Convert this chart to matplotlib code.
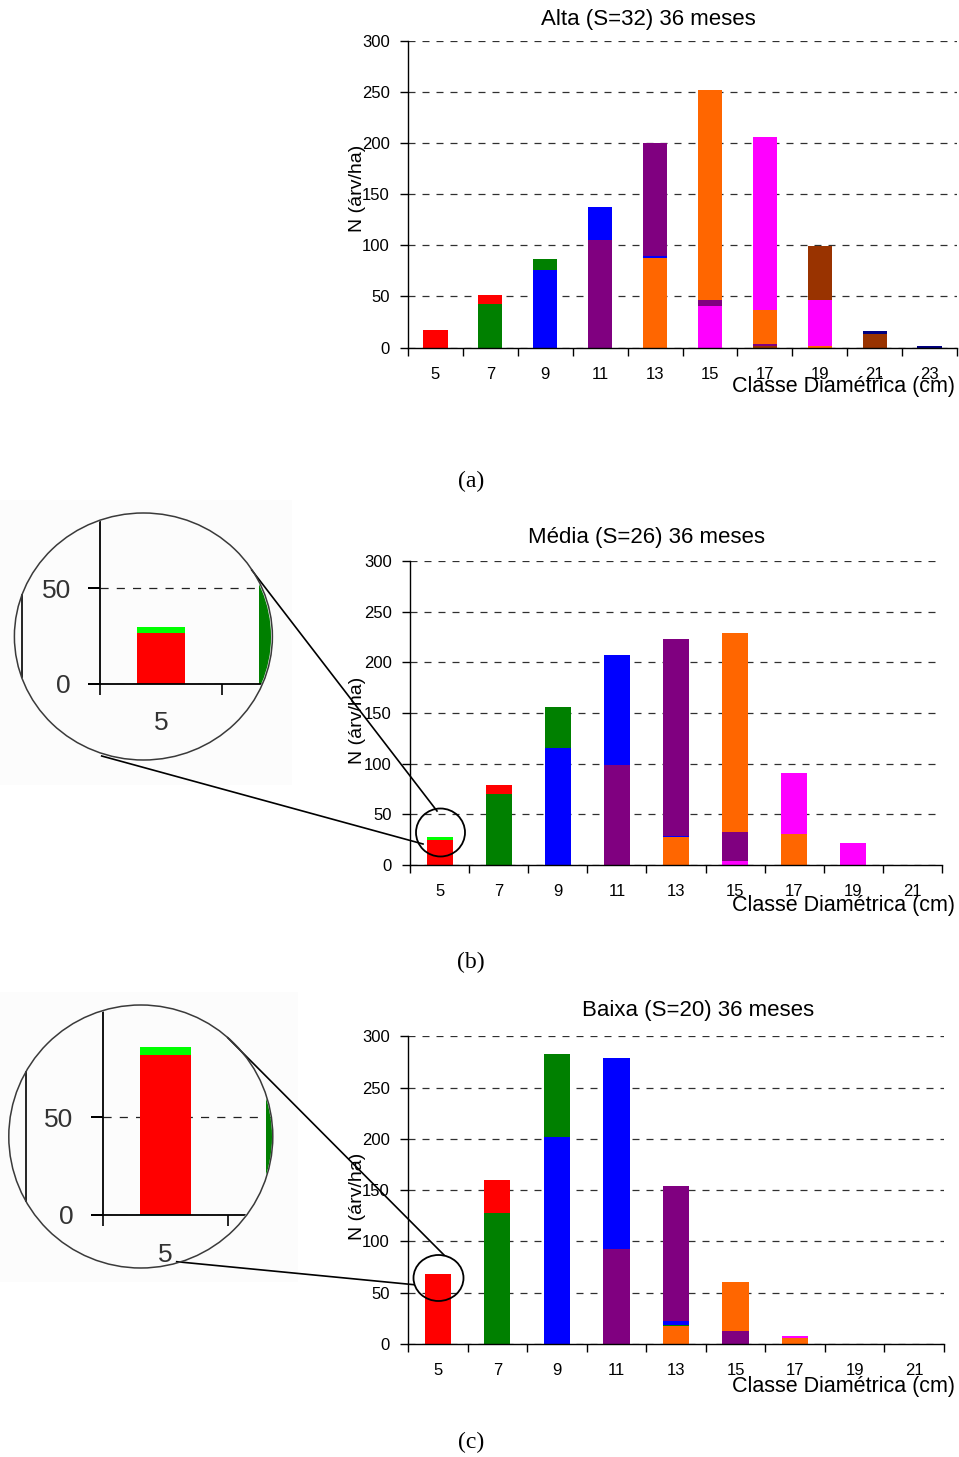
import matplotlib
matplotlib.use('Agg')
import matplotlib.pyplot as plt
from matplotlib.patches import Ellipse, Rectangle
import numpy as np

plt.rcParams['font.family'] = ['Liberation Sans', 'DejaVu Sans']

W, H, DPI = 959, 1457, 100

PALETTE = {'red': '#FF0000', 'lime': '#00FF00', 'green': '#008000', 'blue': '#0000FF',
           'purple': '#800080', 'orange': '#FF6600', 'magenta': '#FF00FF',
           'brown': '#993300', 'navy': '#000080'}

# ---------------- data ----------------
a_title = 'Alta (S=32) 36 meses'
a_classes = ['5', '7', '9', '11', '13', '15', '17', '19', '21', '23']
a_colors = [['red'], ['green', 'red'], ['blue', 'green'], ['purple', 'blue'],
            ['orange', 'blue', 'purple'], ['magenta', 'purple', 'orange'],
            ['brown', 'purple', 'orange', 'magenta'], ['orange', 'magenta', 'brown'],
            ['brown', 'navy'], ['navy']]
a_values = [[17], [43, 8], [76, 10.5], [105, 32.5],
            [87.5, 2, 111], [40.5, 6, 206],
            [1, 2, 33.5, 169.5], [1.5, 45, 53],
            [13, 3], [1.3]]

b_title = 'Média (S=26) 36 meses'
b_classes = ['5', '7', '9', '11', '13', '15', '17', '19', '21']
b_colors = [['red', 'lime'], ['green', 'red'], ['blue', 'green'], ['purple', 'blue'],
            ['orange', 'blue', 'purple'], ['magenta', 'purple', 'orange'],
            ['orange', 'magenta'], ['magenta'], []]
b_values = [[24.5, 3], [70, 8.8], [115.7, 40.3], [98.6, 108.8],
            [27.4, 1.3, 194.5], [3.6, 28.7, 196.8],
            [30.3, 60.4], [21.4], []]

c_title = 'Baixa (S=20) 36 meses'
c_classes = ['5', '7', '9', '11', '13', '15', '17', '19', '21']
c_colors = [['red'], ['green', 'red'], ['blue', 'green'], ['purple', 'blue'],
            ['orange', 'green', 'blue', 'purple'], ['purple', 'orange'],
            ['orange', 'magenta'], [], []]
c_values = [[68], [128, 32], [202, 81], [92.6, 186.2],
            [17.5, 1.3, 3.6, 131.6], [12.7, 47.7],
            [5.8, 2], [], []]

# magnified insets (as drawn in the picture)
b_zoom_classes = ['5', '7']
b_zoom_colors = [['red', 'lime'], ['green', 'red']]
b_zoom_values = [[26.3, 3.1], [70, 8.8]]

c_zoom_classes = ['5', '7']
c_zoom_colors = [['red', 'lime'], ['green', 'red']]
c_zoom_values = [[82, 4], [128, 32]]

y_ticks = [0, 50, 100, 150, 200, 250, 300]
zoom_ticks = [0, 50]

ylabel_text = 'N (árv/ha)'
xlabel_text = 'Classe Diamétrica (cm)'


def px_rect(l, t, r, b):
    return [l / W, 1 - b / H, (r - l) / W, (b - t) / H]


def stacked(ax, colors, values, width):
    x = np.arange(len(colors))
    for i, (cs, vs) in enumerate(zip(colors, values)):
        bottom = 0.0
        for c, v in zip(cs, vs):
            ax.bar(x[i], v, width=width, bottom=bottom, color=PALETTE[c],
                   linewidth=0, zorder=3)
            bottom += v


fig = plt.figure(figsize=(W / DPI, H / DPI), dpi=DPI)
fig.patch.set_facecolor('white')

# background overlay (very light gray behind magnified insets)
ov_bg = fig.add_axes([0, 0, 1, 1], zorder=0)
ov_bg.set_xlim(0, W)
ov_bg.set_ylim(H, 0)
ov_bg.axis('off')
ov_bg.add_patch(Rectangle((0, 500), 292, 285, facecolor='#fcfcfc', edgecolor='none'))
ov_bg.add_patch(Rectangle((0, 992), 298, 290, facecolor='#fcfcfc', edgecolor='none'))


def panel(rect, classes, colors, values, title, title_xy, ylab_y, xlab_y, tag, tag_y):
    ax = fig.add_axes(px_rect(*rect), zorder=1)
    ax.patch.set_alpha(0)
    n = len(classes)
    stacked(ax, colors, values, 0.44)
    ax.set_xlim(-0.5, n - 0.5)
    ax.set_ylim(0, 300)
    ax.set_yticks(y_ticks)
    ax.set_yticklabels([str(t) for t in y_ticks], fontsize=12)
    ax.set_xticks(np.arange(n))
    ax.set_xticklabels(classes, fontsize=12)
    ax.set_xticks(np.arange(-0.5, n), minor=True)
    ax.tick_params(axis='x', which='major', length=0, pad=14)
    ax.tick_params(axis='x', which='minor', length=6, width=1, direction='out')
    ax.tick_params(axis='y', length=6, width=1, pad=7, direction='out')
    for s in ('top', 'right'):
        ax.spines[s].set_visible(False)
    for s in ('left', 'bottom'):
        ax.spines[s].set_linewidth(1.0)
        ax.spines[s].set_zorder(5)
    ax.set_axisbelow(True)
    ax.yaxis.grid(True, linestyle=(0, (5.6, 5.6)), color='#303030', linewidth=0.9)
    fig.text(title_xy[0] / W, 1 - title_xy[1] / H, title, fontsize=16,
             ha='center', va='baseline')
    fig.text(357 / W, 1 - ylab_y / H, ylabel_text, fontsize=14, rotation=90,
             ha='center', va='center')
    fig.text(955 / W, 1 - xlab_y / H, xlabel_text, fontsize=15.5,
             ha='right', va='baseline')
    fig.text(471 / W, 1 - tag_y / H, tag, fontsize=17, family='Liberation Serif',
             ha='center', va='center')
    return ax


panel((408, 41.3, 957, 347.5), a_classes, a_colors, a_values, a_title,
      (648, 25.5), 188, 392, '(a)', 481)
panel((410, 561.3, 942, 864.7), b_classes, b_colors, b_values, b_title,
      (647, 543), 720, 911, '(b)', 962)
panel((408, 1036.3, 944, 1344), c_classes, c_colors, c_values, c_title,
      (698, 1016), 1196, 1392, '(c)', 1442)

# foreground overlay (circles, connector lines)
ov = fig.add_axes([0, 0, 1, 1], zorder=10)
ov.set_xlim(0, W)
ov.set_ylim(H, 0)
ov.axis('off')
ov.patch.set_alpha(0)


def zoom_inset(center, rx, ry, ax_left, zero_y, px_per_unit, cat_px, x0_px,
               classes, colors, values, small, lines, leftline):
    ell = Ellipse(center, 2 * rx, 2 * ry, facecolor='none', edgecolor='#3a3a3a',
                  linewidth=1.1, zorder=6)
    ov.add_patch(ell)
    top_y = center[1] - ry - 5
    right_x = center[0] + rx + 5
    ax = fig.add_axes(px_rect(ax_left, top_y, right_x, zero_y), zorder=5)
    ax.patch.set_alpha(0)
    stacked(ax, colors, values, 0.4)
    xmin = -0.5 + (ax_left - x0_px) / cat_px
    ax.set_xlim(xmin, xmin + (right_x - ax_left) / cat_px)
    ax.set_ylim(0, (zero_y - top_y) / px_per_unit)
    ax.set_yticks(zoom_ticks)
    ax.set_yticklabels([str(t) for t in zoom_ticks], fontsize=19, color='#333333')
    ax.set_xticks([0])
    ax.set_xticklabels([classes[0]], fontsize=19, color='#333333')
    ax.set_xticks([-0.5, 0.5], minor=True)
    ax.tick_params(axis='x', which='major', length=0, pad=20)
    ax.tick_params(axis='x', which='minor', length=8, width=1.2)
    ax.tick_params(axis='y', length=9, width=1.2, pad=12)
    for s in ('top', 'right'):
        ax.spines[s].set_visible(False)
    for s in ('left', 'bottom'):
        ax.spines[s].set_linewidth(1.3)
        ax.spines[s].set_zorder(5)
    ax.set_axisbelow(True)
    ax.yaxis.grid(True, linestyle=(0, (6.5, 6.5)), color='#222222', linewidth=0.9)
    clip = Ellipse(center, 2 * rx - 2, 2 * ry - 2, transform=ov.transData)
    for art in ax.patches + ax.get_ygridlines() + list(ax.spines.values()):
        art.set_clip_path(clip)
    for t in ax.xaxis.get_minor_ticks() + ax.yaxis.get_major_ticks():
        t.tick1line.set_clip_path(clip)
        t.gridline.set_clip_path(clip)
    # small circle in main chart
    sc, srx, sry = small
    ov.add_patch(Ellipse(sc, 2 * srx, 2 * sry, facecolor='none', edgecolor='black',
                         linewidth=1.3))
    for (x1, y1, x2, y2) in lines:
        ov.plot([x1, x2], [y1, y2], color='black', linewidth=1.2)
    ov.plot([leftline[0], leftline[0]], [leftline[1], leftline[2]], color='black',
            linewidth=1.2)


zoom_inset((143.4, 636.5), 129, 123.5, 100, 683.7, 95.7 / 50, 124, 97,
           b_zoom_classes, b_zoom_colors, b_zoom_values,
           ((440.5, 832.5), 24.5, 24),
           [(251.7, 570, 437, 811), (101.7, 756, 423, 844)], (22, 595, 677))
zoom_inset((140.8, 1136.5), 132, 131.5, 102.7, 1215, 97.7 / 50, 129, 98,
           c_zoom_classes, c_zoom_colors, c_zoom_values,
           ((438.5, 1278), 25, 23),
           [(227.7, 1037.7, 444, 1255), (176.7, 1261.7, 414, 1284.7)], (26, 1072, 1201))

fig.savefig('out.png', dpi=DPI, facecolor='white')
